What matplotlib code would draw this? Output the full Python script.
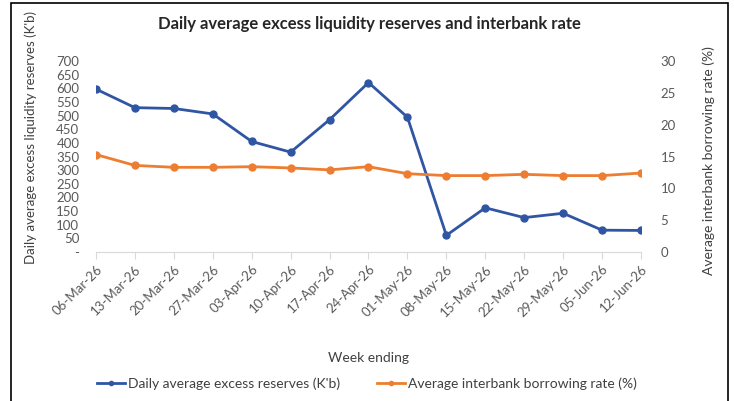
import matplotlib
matplotlib.use("Agg")
import matplotlib.pyplot as plt
from matplotlib.patches import Rectangle
from matplotlib.ticker import FuncFormatter, MultipleLocator

plt.rcParams['font.family'] = ['Lato', 'DejaVu Sans']

weeks = ['06-Mar-26', '13-Mar-26', '20-Mar-26', '27-Mar-26', '03-Apr-26',
         '10-Apr-26', '17-Apr-26', '24-Apr-26', '01-May-26', '08-May-26',
         '15-May-26', '22-May-26', '29-May-26', '05-Jun-26', '12-Jun-26']
reserves = [597, 529, 526, 506, 405, 366, 485, 621, 494, 61,
            162, 126, 142, 80, 79]
rate = [15.3, 13.6, 13.3, 13.3, 13.4, 13.2, 12.9, 13.4, 12.3, 12.0,
        12.0, 12.2, 12.0, 12.0, 12.4]

blue = '#2F55A3'
orange = '#ED7D31'
grey_txt = '#595959'

fig = plt.figure(figsize=(7.34, 4.01), dpi=100)
ax = fig.add_axes([96 / 734, 1 - 252 / 401, (641 - 96) / 734, (252 - 61) / 401])
ax2 = ax.twinx()

x = list(range(len(weeks)))
l1, = ax.plot(x, reserves, color=blue, lw=2.0, marker='o', ms=5,
              label="Daily average excess reserves (K'b)")
l2, = ax2.plot(x, rate, color=orange, lw=2.0, marker='o', ms=5,
               label='Average interbank borrowing rate (%)')

ax.set_xlim(0, len(weeks) - 1)
ax.set_ylim(0, 700)
ax2.set_ylim(0, 30)
ax.yaxis.set_major_locator(MultipleLocator(50))
ax2.yaxis.set_major_locator(MultipleLocator(5))
ax.yaxis.set_major_formatter(FuncFormatter(lambda v, p: '-' if v == 0 else f'{v:.0f}'))

ax.set_xticks(x)
ax.set_xticklabels(weeks, rotation=45, ha='right', rotation_mode='anchor',
                   fontsize=9.5, color=grey_txt)
ax.tick_params(axis='x', length=5, color='#D9D9D9', pad=3)
ax.tick_params(axis='y', length=0, labelsize=9.5, labelcolor=grey_txt, pad=12)
ax2.tick_params(axis='y', length=0, labelsize=9.5, labelcolor=grey_txt, pad=14)

for a in (ax, ax2):
    for s in ('top', 'left', 'right'):
        a.spines[s].set_visible(False)
ax2.spines['bottom'].set_visible(False)
ax.spines['bottom'].set_color('#D9D9D9')

ax.set_ylabel("Daily average excess liquidity reserves (K'b)", fontsize=9.5,
              color='#404040')
ax.yaxis.set_label_coords(-0.108, 0.6)
ax2.set_ylabel('Average interbank borrowing rate (%)', fontsize=10,
               color='#404040')
ax2.yaxis.set_label_coords(1.112, 0.48)
ax.set_xlabel('Week ending', fontsize=10, color='#404040', labelpad=24)

fig.text(0.503, 1 - 24 / 401, 'Daily average excess liquidity reserves and interbank rate',
         ha='center', va='center', fontsize=12, fontweight='bold', color='#262626')

fig.legend(handles=[l1, l2], loc='center', bbox_to_anchor=(0.5, 1 - 384 / 401),
           ncol=2, frameon=False, fontsize=10, handlelength=2.0, handletextpad=0.2,
           columnspacing=2.7, markerscale=0.6, labelcolor='#404040')

fig.patches.append(Rectangle((11 / 734, -0.05), (728 - 11) / 734, 1.05 - 3 / 401,
                             transform=fig.transFigure, fill=False,
                             edgecolor='black', lw=1.2))

fig.savefig('out.png', dpi=100)
